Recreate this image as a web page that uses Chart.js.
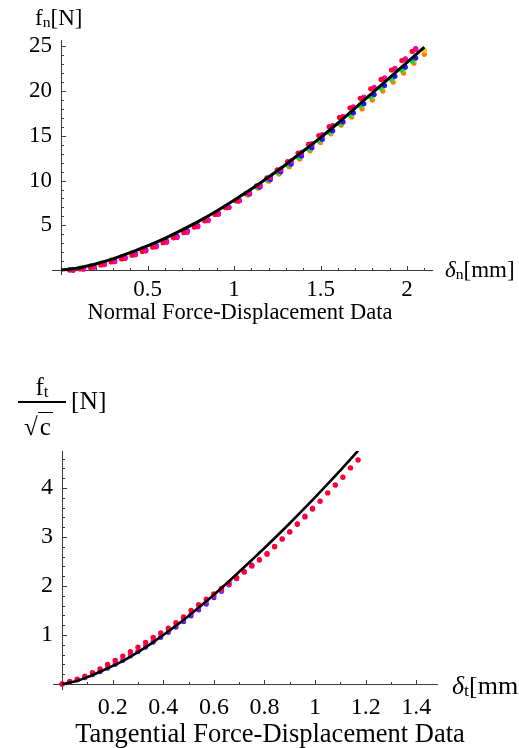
<!DOCTYPE html>
<html>
<head>
<meta charset="utf-8">
<script src="https://cdn.jsdelivr.net/npm/chart.js@4.4.1/dist/chart.umd.min.js"></script>
<style>
    html, body { margin: 0; padding: 0; background: #fff; overflow: hidden; }
    body { width: 519px; height: 748px; position: relative; font-family: 'Liberation Serif', serif; color: #000; }
    canvas { position: absolute; left: 0; }
    .lbl { position: absolute; white-space: nowrap; line-height: 1; }
    .sub { font-size: 0.68em; vertical-align: -0.12em; font-style: normal; }
    .it { font-style: italic; }
</style>
</head>
<body>
<canvas id="normalChart" width="519" height="330" style="top:0"></canvas>
<canvas id="tangChart" width="519" height="418" style="top:330px"></canvas>

<div class="lbl" style="left:35px; top:6px; font-size:23px;">f<span class="sub">n</span>[N]</div>
<div class="lbl" style="left:445px; top:258px; font-size:23px;"><span class="it">δ</span><span class="sub">n</span>[mm]</div>
<div class="lbl" style="left:0; width:480px; text-align:center; top:301px; font-size:22.5px;">Normal Force-Displacement Data</div>

<div class="lbl" style="left:18px; width:48px; text-align:center; top:374px; font-size:25px;">f<span class="sub">t</span></div>
<div style="position:absolute; left:18px; top:401px; width:48px; height:1.5px; background:#000;"></div>
<div class="lbl" style="left:24px; top:414px; font-size:25px;">√<span style="border-top:1.5px solid #000; padding:0 2px;">c</span></div>
<div class="lbl" style="left:71px; top:388px; font-size:25.5px;">[N]</div>
<div class="lbl" style="left:452px; top:673px; font-size:26px;"><span class="it">δ</span><span class="sub">t</span>[mm]</div>
<div class="lbl" style="left:0; width:540px; text-align:center; top:720px; font-size:26.5px;">Tangential Force-Displacement Data</div>

<script>
// ---- Normal force-displacement data ----
const normFitDisp = [0, 0.1, 0.2, 0.3, 0.4, 0.5, 0.6, 0.7, 0.8, 0.9, 1.0, 1.1, 1.2, 1.3, 1.4, 1.5, 1.6, 1.7, 1.8, 1.9, 2.0, 2.1];
const normFitForce = [0, 0.24, 0.68, 1.25, 1.95, 2.7, 3.55, 4.5, 5.5, 6.6, 7.8, 9.05, 10.4, 11.8, 13.3, 14.8, 16.4, 18.1, 19.8, 21.5, 23.2, 24.9];

const normDisp = [0.05, 0.11, 0.17, 0.23, 0.29, 0.35, 0.41, 0.47, 0.53, 0.59, 0.65, 0.71, 0.77, 0.83, 0.89, 0.95, 1.01,
    1.07, 1.13, 1.19, 1.25, 1.31, 1.37, 1.43, 1.49, 1.55, 1.61, 1.67, 1.73, 1.79, 1.85, 1.91, 1.97, 2.03];
const normDispB = [0.12, 0.18, 0.24, 0.30, 0.36, 0.42, 0.48, 0.54, 0.60, 0.66, 0.72, 0.78, 0.84, 0.90, 0.96, 1.02, 1.08,
    1.14, 1.20, 1.26, 1.32, 1.38, 1.44, 1.50, 1.56, 1.62, 1.68, 1.74, 1.80, 1.86, 1.92, 1.98, 2.04, 2.10];
const normDispC = [0.07, 0.13, 0.19, 0.25, 0.31, 0.37, 0.43, 0.49, 0.55, 0.61, 0.67, 0.73, 0.79, 0.85, 0.91, 0.97, 1.03,
    1.09, 1.15, 1.21, 1.27, 1.33, 1.39, 1.45, 1.51, 1.57, 1.63, 1.69, 1.75, 1.81, 1.87, 1.93, 1.99, 2.05];

const normRed = [0.0, 0.12, 0.30, 0.58, 0.90, 1.25, 1.65, 2.08, 2.55, 3.05, 3.60, 4.18, 4.80, 5.50, 6.22, 6.98, 7.76,
    8.58, 9.42, 10.30, 11.20, 12.12, 13.08, 14.05, 15.02, 16.02, 17.05, 18.12, 19.18, 20.25, 21.30, 22.35, 23.40, 24.42];
const normPink = [0.0, 0.10, 0.32, 0.60, 0.93, 1.30, 1.70, 2.13, 2.60, 3.10, 3.64, 4.22, 4.85, 5.52, 6.25, 7.00, 7.80,
    8.62, 9.48, 10.36, 11.27, 12.20, 13.16, 14.14, 15.13, 16.14, 17.18, 18.24, 19.32, 20.40, 21.47, 22.54, 23.60, 24.65];
const normViolet = [0.02, 0.14, 0.35, 0.63, 0.96, 1.33, 1.74, 2.18, 2.65, 3.16, 3.70, 4.28, 4.90, 5.56, 6.27, 7.00, 7.78,
    8.60, 9.44, 10.30, 11.18, 12.08, 13.00, 13.95, 14.92, 16.10, 17.12, 18.18, 19.25, 20.32, 21.40, 22.48, 23.56, 24.75];
const normBlue = [0.02, 0.18, 0.42, 0.72, 1.05, 1.42, 1.83, 2.27, 2.74, 3.25, 3.80, 4.38, 4.98, 5.62, 6.30, 7.01, 7.74,
    8.50, 9.30, 10.12, 10.97, 11.84, 12.74, 13.66, 14.60, 15.56, 16.55, 17.56, 18.58, 19.60, 20.62, 21.64, 22.66, 23.68];
const normGreen = [0.05, 0.22, 0.48, 0.78, 1.12, 1.50, 1.92, 2.36, 2.83, 3.33, 3.88, 4.45, 5.05, 5.68, 6.35, 7.04, 7.76,
    8.51, 9.28, 10.08, 10.90, 11.75, 12.62, 13.52, 14.44, 15.38, 16.34, 17.32, 18.32, 19.32, 20.32, 21.32, 22.32, 23.32];
const normOrange = [0.20, 0.45, 0.75, 1.08, 1.47, 1.88, 2.32, 2.80, 3.30, 3.84, 4.40, 5.00, 5.62, 6.27, 6.95, 7.66, 8.38,
    9.14, 9.92, 10.72, 11.55, 12.40, 13.32, 14.25, 15.22, 16.20, 17.10, 18.00, 19.00, 20.00, 21.00, 22.00, 23.10, 24.10];
const normYellow = [0.25, 0.50, 0.80, 1.14, 1.53, 1.95, 2.40, 2.88, 3.39, 3.94, 4.51, 5.12, 5.75, 6.41, 7.10, 7.82, 8.56,
    9.33, 10.13, 10.95, 11.80, 12.67, 13.56, 14.47, 15.40, 16.45, 17.40, 18.38, 19.36, 20.35, 21.36, 22.38, 23.45, 24.55];

const normXTicks = [0.5, 1, 1.5, 2];
const normYTicks = [5, 10, 15, 20, 25];

// ---- Tangential force-displacement data ----
const tangFitDisp = [0, 0.05, 0.10, 0.15, 0.20, 0.25, 0.30, 0.35, 0.40, 0.45, 0.50, 0.55, 0.60, 0.65, 0.70, 0.75, 0.80,
    0.85, 0.90, 0.95, 1.00, 1.05, 1.10, 1.15, 1.17];
const tangFitForce = [0, 0.05, 0.14, 0.25, 0.37, 0.50, 0.65, 0.82, 1.00, 1.19, 1.39, 1.60, 1.82, 2.05, 2.29,
    2.532, 2.775, 3.025, 3.280, 3.542, 3.81, 4.083, 4.362, 4.646, 4.762];

const tangDisp = [0.00, 0.03, 0.06, 0.09, 0.12, 0.15, 0.18, 0.21, 0.24, 0.27, 0.30, 0.33, 0.36, 0.39, 0.42, 0.45, 0.48,
    0.51, 0.54, 0.57, 0.60, 0.63, 0.66, 0.69, 0.72, 0.75, 0.78, 0.81, 0.84, 0.87, 0.90, 0.93, 0.96, 0.99, 1.02, 1.05,
    1.08, 1.11, 1.14, 1.17];
const tangRed = [0.00, 0.05, 0.10, 0.16, 0.23, 0.31, 0.40, 0.48, 0.57, 0.66, 0.75, 0.85, 0.95, 1.04, 1.14, 1.25, 1.37,
    1.50, 1.62, 1.73, 1.84, 1.95, 2.06, 2.17, 2.29, 2.41, 2.53, 2.65, 2.80, 2.96, 3.10, 3.26, 3.41, 3.57, 3.73, 3.90,
    4.06, 4.22, 4.41, 4.57];
const tangMagenta = [0.00, 0.04, 0.09, 0.14, 0.20, 0.27, 0.34, 0.42, 0.50, 0.59, 0.68, 0.78, 0.88, 0.98, 1.08, 1.19, 1.31,
    1.43, 1.55, 1.67, 1.79, 1.91, 2.03, 2.15, 2.28, 2.41, 2.54, 2.67, 2.81, 2.96, 3.11, 3.27, 3.43, 3.59];
const tangBlue = [0.00, 0.04, 0.08, 0.13, 0.19, 0.25, 0.32, 0.40, 0.48, 0.57, 0.66, 0.75, 0.85, 0.95, 1.05, 1.16, 1.27,
    1.39, 1.51, 1.63, 1.76, 1.89, 2.02, 2.15, 2.29, 2.43];

const tangXTicks = [0.2, 0.4, 0.6, 0.8, 1, 1.2, 1.4];
const tangYTicks = [1, 2, 3, 4];

const FONT = "'Liberation Serif', 'Times New Roman', serif";

// pair x and y arrays into point objects
function points(xs, ys) {
    return ys.map((y, i) => ({ x: xs[i], y: y }));
}

function fitLine(xs, ys, width) {
    return {
        data: points(xs, ys),
        showLine: true,
        borderColor: '#000',
        borderWidth: width,
        pointRadius: 0,
        tension: 0.4,
        cubicInterpolationMode: 'monotone'
    };
}

function dots(xs, ys, color, r) {
    return {
        data: points(xs, ys),
        showLine: false,
        backgroundColor: color,
        pointRadius: r,
        pointBorderWidth: 0,
        pointHoverRadius: r
    };
}

// Mathematica-like axes crossing at the origin, with minor ticks pointing inward
const originAxes = {
    id: 'originAxes',
    beforeDatasetsDraw(chart, args, opts) {
        const { ctx, chartArea: a, scales: { x, y } } = chart;
        const x0 = Math.round(x.getPixelForValue(0)) + 0.5;
        const y0 = Math.round(y.getPixelForValue(0)) + 0.5;
        ctx.save();
        ctx.strokeStyle = '#3a3a3a';
        ctx.lineWidth = 1;
        ctx.beginPath();
        ctx.moveTo(a.left, y0);
        ctx.lineTo(a.right, y0);
        ctx.moveTo(x0, a.bottom);
        ctx.lineTo(x0, a.top);
        const n = Math.floor(x.max / opts.xMinor + 1e-6);
        for (let i = 1; i <= n; i++) {
            const v = i * opts.xMinor;
            const major = Math.abs(v / opts.xMajor - Math.round(v / opts.xMajor)) < 1e-6;
            const px = Math.round(x.getPixelForValue(v)) + 0.5;
            ctx.moveTo(px, y0);
            ctx.lineTo(px, y0 - (major ? 4.5 : 2.5));
        }
        const m = Math.floor(y.max / opts.yMinor + 1e-6);
        for (let i = 1; i <= m; i++) {
            const v = i * opts.yMinor;
            const major = Math.abs(v / opts.yMajor - Math.round(v / opts.yMajor)) < 1e-6;
            const py = Math.round(y.getPixelForValue(v)) + 0.5;
            ctx.moveTo(x0, py);
            ctx.lineTo(x0 + (major ? 4.5 : 2.5), py);
        }
        ctx.stroke();
        ctx.restore();
    }
};

function makeChart(canvasId, datasets, cfg) {
    const ctx = document.getElementById(canvasId).getContext('2d');
    return new Chart(ctx, {
        type: 'scatter',
        data: { datasets },
        plugins: [originAxes],
        options: {
            responsive: false,
            animation: false,
            events: [],
            layout: { padding: cfg.padding },
            plugins: {
                legend: { display: false },
                tooltip: { enabled: false },
                originAxes: cfg.axes
            },
            scales: {
                x: {
                    type: 'linear',
                    min: cfg.xMin,
                    max: cfg.xMax,
                    grid: { display: false, drawTicks: false },
                    border: { display: false },
                    afterBuildTicks: s => { s.ticks = cfg.xTicks.map(v => ({ value: v })); },
                    afterFit: s => { s.height = cfg.xHeight; },
                    ticks: {
                        color: '#000',
                        padding: cfg.xPad,
                        maxRotation: 0,
                        autoSkip: false,
                        font: { family: FONT, size: cfg.tickSize },
                        callback: v => String(+v.toFixed(2))
                    }
                },
                y: {
                    type: 'linear',
                    min: cfg.yMin,
                    max: cfg.yMax,
                    grid: { display: false, drawTicks: false },
                    border: { display: false },
                    afterBuildTicks: s => { s.ticks = cfg.yTicks.map(v => ({ value: v })); },
                    afterFit: s => { s.width = cfg.yWidth; },
                    ticks: {
                        color: '#000',
                        padding: cfg.yPad,
                        autoSkip: false,
                        font: { family: FONT, size: cfg.tickSize },
                        callback: v => String(+v.toFixed(2))
                    }
                }
            }
        }
    });
}

makeChart('normalChart', [
    fitLine(normFitDisp, normFitForce, 3),
    dots(normDisp, normRed, '#ff0030', 2.6),
    dots(normDispC, normPink, '#ff00a0', 2.6),
    dots(normDispC, normViolet, '#9900ff', 2.6),
    dots(normDispC, normBlue, '#1a1aff', 2.6),
    dots(normDisp, normGreen, '#00e040', 2.6),
    dots(normDispB, normYellow, '#ffc400', 2.6),
    dots(normDispB, normOrange, '#ff7a00', 2.6)
], {
    padding: { left: 0, top: 40, right: 86, bottom: 0 },
    xMin: -0.052, xMax: 2.15, yMin: -0.55, yMax: 25.7,
    xTicks: normXTicks, yTicks: normYTicks,
    xHeight: 55, yWidth: 52, xPad: 1, yPad: 0, tickSize: 23,
    axes: { xMinor: 0.1, xMajor: 0.5, yMinor: 1, yMajor: 5 }
});

makeChart('tangChart', [
    fitLine(tangFitDisp, tangFitForce, 2.6),
    dots(tangDisp, tangRed, '#ff0030', 2.7),
    dots(tangDisp, tangMagenta, '#f000d0', 2.5),
    dots(tangDisp, tangBlue, '#2a2aff', 2.5)
], {
    padding: { left: 0, top: 121, right: 81, bottom: 0 },
    xMin: -0.036, xMax: 1.486, yMin: -0.122, yMax: 4.755,
    xTicks: tangXTicks, yTicks: tangYTicks,
    xHeight: 58, yWidth: 53, xPad: 3, yPad: 0, tickSize: 24,
    axes: { xMinor: 0.1, xMajor: 0.2, yMinor: 0.2, yMajor: 1 }
});
</script>
</body>
</html>
